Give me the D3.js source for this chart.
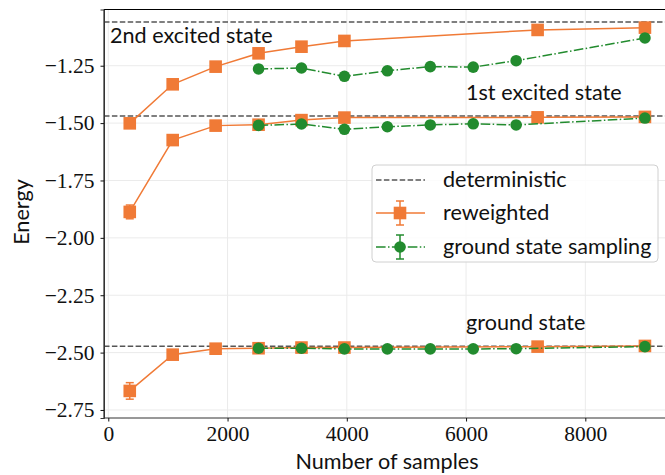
<!DOCTYPE html>
<html><head><meta charset="utf-8">
<script src="https://cdn.jsdelivr.net/npm/d3@7"></script>
<style>body{margin:0;background:#fff}svg{display:block}</style>
</head><body><div id="chart"></div>
<script>
// ---- data ----
const xTicks = [0, 2000, 4000, 6000, 8000];
const yTicks = [-1.25, -1.5, -1.75, -2.0, -2.25, -2.5, -2.75];
const deterministic = [-1.06, -1.469, -2.472];
const stateLabels = ["2nd excited state", "1st excited state", "ground state"];

const rwX = [360, 1080, 1800, 2520, 3240, 3960, 7200, 9000];
const rw2nd = [-1.501, -1.331, -1.254, -1.196, -1.167, -1.142, -1.094, -1.084];
const rw1st = [-1.887, -1.574, -1.511, -1.507, -1.487, -1.476, -1.475, -1.473];
const rwGnd = [-2.667, -2.509, -2.483, -2.481, -2.478, -2.478, -2.474, -2.471];
const rw2ndErr = [0.004, 0.004, 0.003, 0.003, 0.003, 0.003, 0.002, 0.002];
const rw1stErr = [0.03, 0.006, 0.004, 0.003, 0.003, 0.003, 0.002, 0.002];
const rwGndErr = [0.036, 0.006, 0.004, 0.003, 0.003, 0.003, 0.002, 0.002];

const gsX = [2520, 3240, 3960, 4680, 5400, 6120, 6840, 9000];
const gs2nd = [-1.264, -1.260, -1.296, -1.272, -1.254, -1.256, -1.228, -1.129];
const gs1st = [-1.510, -1.504, -1.527, -1.516, -1.508, -1.503, -1.508, -1.478];
const gsGnd = [-2.481, -2.481, -2.484, -2.484, -2.484, -2.484, -2.483, -2.474];

const legendLabels = ["deterministic", "reweighted", "ground state sampling"];

// ---- drawing ----
const W = 665, H = 475;
const orange = "#f07a36", green = "#228b2e", dash = "#555";
const svg = d3.select("#chart").append("svg").attr("width", W).attr("height", H);

const x = d3.scaleLinear().domain([-72, 9432]).range([104, 670.7]);
const y = d3.scaleLinear().domain([-1.005, -2.785]).range([9.5, 418]);
const L = 104, R = 670.7, T = 9.5, B = 418;

// grid
const grid = svg.append("g").attr("stroke", "#ebebeb").attr("stroke-width", 1);
xTicks.forEach(t => grid.append("line").attr("x1", x(t)).attr("x2", x(t)).attr("y1", T).attr("y2", B));
yTicks.forEach(t => grid.append("line").attr("x1", L).attr("x2", R).attr("y1", y(t)).attr("y2", y(t)));

// deterministic lines
deterministic.forEach(v => svg.append("line").attr("x1", L).attr("x2", R)
  .attr("y1", y(v)).attr("y2", y(v)).attr("stroke", dash).attr("stroke-width", 1.5)
  .attr("stroke-dasharray", "5.5,2.4"));

// state labels
const sansFont = "Lato, 'DejaVu Sans', sans-serif";
const FS = 21.6;
function label(xp, yp, t) {
  svg.append("text").attr("x", xp).attr("y", yp).text(t)
    .style("font-family", sansFont).style("font-size", FS + "px").attr("fill", "#111");
}
label(110, 43, stateLabels[0]);
label(466, 100, stateLabels[1]);
label(466, 330, stateLabels[2]);

const line = d3.line().x(d => x(d[0])).y(d => y(d[1]));

function drawSeries(xs, ys, errs, kind) {
  const pts = xs.map((v, i) => [v, ys[i], errs ? errs[i] : 0]);
  const g = svg.append("g");
  const col = kind === "sq" ? orange : green;
  g.append("path").attr("d", line(pts)).attr("fill", "none").attr("stroke", col)
    .attr("stroke-width", 1.5).attr("stroke-dasharray", kind === "sq" ? null : "9.6,2.4,1.5,2.4");
  if (errs) {
    pts.forEach(p => {
      if (p[2] <= 0) return;
      g.append("line").attr("x1", x(p[0])).attr("x2", x(p[0])).attr("y1", y(p[1] - p[2])).attr("y2", y(p[1] + p[2]))
        .attr("stroke", col).attr("stroke-width", 1.5);
      [p[1] - p[2], p[1] + p[2]].forEach(v => g.append("line").attr("x1", x(p[0]) - 4).attr("x2", x(p[0]) + 4)
        .attr("y1", y(v)).attr("y2", y(v)).attr("stroke", col).attr("stroke-width", 1.5));
    });
  }
  pts.forEach(p => {
    if (kind === "sq") {
      g.append("rect").attr("x", x(p[0]) - 6.3).attr("y", y(p[1]) - 6.3).attr("width", 12.6).attr("height", 12.6).attr("fill", orange);
    } else {
      g.append("circle").attr("cx", x(p[0])).attr("cy", y(p[1])).attr("r", 5.8).attr("fill", green);
    }
  });
}
drawSeries(rwX, rw2nd, rw2ndErr, "sq");
drawSeries(rwX, rw1st, rw1stErr, "sq");
drawSeries(rwX, rwGnd, rwGndErr, "sq");
drawSeries(gsX, gs2nd, null, "ci");
drawSeries(gsX, gs1st, null, "ci");
drawSeries(gsX, gsGnd, null, "ci");

// spines
svg.append("line").attr("x1", L).attr("x2", R).attr("y1", T).attr("y2", T).attr("stroke", "#000").attr("stroke-width", 1);
svg.append("line").attr("x1", L).attr("x2", L).attr("y1", T).attr("y2", B).attr("stroke", "#000").attr("stroke-width", 1);

// axes
const serif = "'Liberation Serif', 'DejaVu Serif', serif";
const fmtY = d => "\u2212" + d3.format(".2f")(-d);
const xAxis = svg.append("g").attr("transform", `translate(0,${B})`)
  .call(d3.axisBottom(x).tickValues(xTicks).tickSize(3.5).tickPadding(4).tickFormat(d3.format("d")));
const yAxis = svg.append("g").attr("transform", `translate(${L},0)`)
  .call(d3.axisLeft(y).tickValues(yTicks).tickSize(3.5).tickPadding(6).tickFormat(fmtY));
[xAxis, yAxis].forEach(a => {
  a.attr("font-family", null).attr("font-size", null);
  a.select(".domain").attr("stroke", "#333");
  a.selectAll("text").style("font-family", serif).style("font-size", "21.5px").attr("fill", "#111");
  a.selectAll(".tick line").attr("stroke", "#111");
});
xAxis.select(".domain").attr("d", `M${L},0H${R}`);

svg.append("text").attr("x", 387).attr("y", 469).attr("text-anchor", "middle")
  .style("font-family", sansFont).style("font-size", FS + "px").attr("fill", "#111").text("Number of samples");
svg.append("text").attr("transform", "translate(29,212) rotate(-90)").attr("text-anchor", "middle")
  .style("font-family", sansFont).style("font-size", FS + "px").attr("fill", "#111").text("Energy");

// legend
const lg = svg.append("g");
lg.append("rect").attr("x", 372).attr("y", 165).attr("width", 286).attr("height", 97).attr("rx", 4)
  .attr("fill", "rgba(255,255,255,0.85)").attr("stroke", "#d0d0d0").attr("stroke-width", 1);
const rows = [180, 213, 247];
const lx1 = 376, lx2 = 425, lxm = 400;
lg.append("line").attr("x1", lx1).attr("x2", lx2).attr("y1", rows[0]).attr("y2", rows[0])
  .attr("stroke", dash).attr("stroke-width", 1.5).attr("stroke-dasharray", "5.5,2.4");
lg.append("line").attr("x1", lx1).attr("x2", lx2).attr("y1", rows[1]).attr("y2", rows[1]).attr("stroke", orange).attr("stroke-width", 1.5);
lg.append("line").attr("x1", lxm).attr("x2", lxm).attr("y1", rows[1] - 12).attr("y2", rows[1] + 12).attr("stroke", orange).attr("stroke-width", 1.5);
[rows[1] - 12, rows[1] + 12].forEach(v => lg.append("line").attr("x1", lxm - 4).attr("x2", lxm + 4).attr("y1", v).attr("y2", v).attr("stroke", orange).attr("stroke-width", 1.5));
lg.append("rect").attr("x", lxm - 6.3).attr("y", rows[1] - 6.3).attr("width", 12.6).attr("height", 12.6).attr("fill", orange);
lg.append("line").attr("x1", lx1).attr("x2", lx2).attr("y1", rows[2]).attr("y2", rows[2]).attr("stroke", green).attr("stroke-width", 1.5).attr("stroke-dasharray", "9.6,2.4,1.5,2.4");
lg.append("line").attr("x1", lxm).attr("x2", lxm).attr("y1", rows[2] - 12).attr("y2", rows[2] + 12).attr("stroke", green).attr("stroke-width", 1.5);
[rows[2] - 12, rows[2] + 12].forEach(v => lg.append("line").attr("x1", lxm - 4).attr("x2", lxm + 4).attr("y1", v).attr("y2", v).attr("stroke", green).attr("stroke-width", 1.5));
lg.append("circle").attr("cx", lxm).attr("cy", rows[2]).attr("r", 5.8).attr("fill", green);
legendLabels.forEach((t, i) => lg.append("text").attr("x", 443).attr("y", rows[i] + 7)
  .style("font-family", sansFont).style("font-size", FS + "px").attr("fill", "#111").text(t));
</script></body></html>
